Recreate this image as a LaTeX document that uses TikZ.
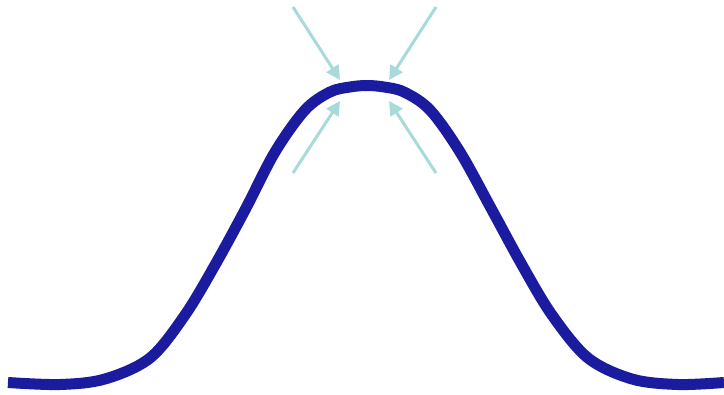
\documentclass[tikz,border=0pt]{standalone}
\usetikzlibrary{arrows.meta}
\definecolor{curveblue}{RGB}{27,27,160}
\definecolor{arrowteal}{RGB}{168,218,218}
\begin{document}
\begin{tikzpicture}[x=1pt,y=-1pt,
  curve/.style={draw=curveblue,line width=11pt},
  pointer/.style={draw=arrowteal,line width=3pt,-{Triangle[length=14pt,width=14pt]}}]
\useasboundingbox[fill=white] (0,0) rectangle (724,395);
\draw[curve] plot[smooth,tension=0.55] coordinates {
 (8,382.5) (60,384.5) (105,379) (150,358) (185,315) (215,265) (245,210) (275,152)
 (305,110) (330,92) (350,87) (367,85.5) (384,87) (404,92) (430,110) (460,152) (492,210) (522,265)
 (552,315) (588,358) (632,379) (678,384.5) (724,382.5)};
\coordinate (tl) at (293,7);
\coordinate (tr) at (436,7);
\coordinate (bl) at (293,173);
\coordinate (br) at (436,173);
\coordinate (ptl) at (340,80);
\coordinate (ptr) at (389,80);
\coordinate (pbl) at (340,101);
\coordinate (pbr) at (389,101);
\draw[pointer] (tl) -- (ptl);
\draw[pointer] (tr) -- (ptr);
\draw[pointer] (bl) -- (pbl);
\draw[pointer] (br) -- (pbr);
\end{tikzpicture}
\end{document}
